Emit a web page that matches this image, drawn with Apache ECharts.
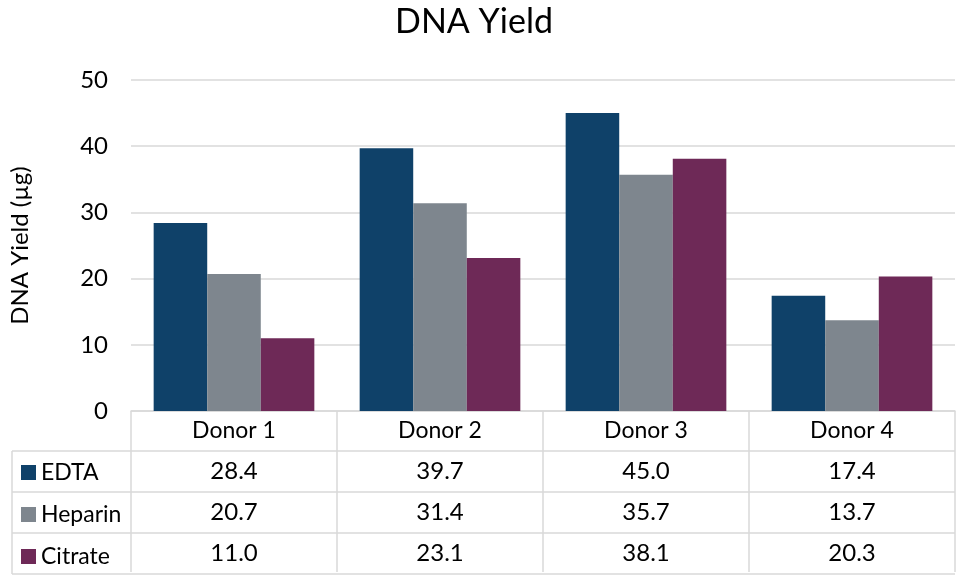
<!DOCTYPE html>
<html><head><meta charset="utf-8">
<script src="https://cdn.jsdelivr.net/npm/echarts@6/dist/echarts.min.js"></script>
<style>html,body{margin:0;padding:0;background:#fff}#c{width:962px;height:584px}</style>
</head><body><div id="c"></div>
<script>
const categories = ['Donor 1', 'Donor 2', 'Donor 3', 'Donor 4'];
const seriesNames = ['EDTA', 'Heparin', 'Citrate'];
const edta = [28.4, 39.7, 45.0, 17.4];
const heparin = [20.7, 31.4, 35.7, 13.7];
const citrate = [11.0, 23.1, 38.1, 20.3];
const yTicks = [0, 10, 20, 30, 40, 50];

const values = [edta, heparin, citrate];
const colors = ['#0F4169', '#7E868E', '#6E2957'];
const FONT = 'Lato';
const GRID = { left: 131, right: 7, top: 80, bottom: 173 };
const ROW = 41;
const gridColor = '#D9D9D9';

const chart = echarts.init(document.getElementById('c'));

const xAxes = [{
  type: 'category', data: categories, position: 'bottom',
  axisLine: { show: true, lineStyle: { color: gridColor, width: 1.5 } },
  axisTick: { show: true, length: ROW * 4 - 3, lineStyle: { color: gridColor, width: 1.5 } },
  axisLabel: { color: '#000', fontFamily: FONT, fontSize: 23, margin: 8 }
}];
values.forEach((arr, i) => {
  xAxes.push({
    type: 'category', data: arr.map(v => v.toFixed(1)), position: 'bottom',
    offset: ROW * (i + 1),
    axisLine: { show: false }, axisTick: { show: false },
    axisLabel: { color: '#000', fontFamily: FONT, fontSize: 24, margin: 7 }
  });
});

const H = 584, W = 962;
const tableTop = H - GRID.bottom;
const gfx = [];
for (let r = 1; r <= 4; r++) {
  const y = tableTop + ROW * r - 1;
  gfx.push({ type: 'line', shape: { x1: 12, y1: y, x2: W - GRID.right, y2: y }, style: { stroke: gridColor, lineWidth: 1.5 }, silent: true });
}
gfx.push({ type: 'line', shape: { x1: 12, y1: tableTop + ROW - 1, x2: 12, y2: tableTop + ROW * 4 - 1 }, style: { stroke: gridColor, lineWidth: 1.5 }, silent: true });
gfx.push({ type: 'text', x: 474, y: 22, style: { text: 'DNA Yield', font: '34px ' + FONT, fill: '#000', textAlign: 'center', textVerticalAlign: 'middle' } });

chart.setOption({
  animation: false,
  backgroundColor: '#fff',
  grid: GRID,
  legend: {
    orient: 'vertical', left: 21, top: tableTop + ROW + 9, height: 160, padding: 0,
    itemWidth: 15, itemHeight: 15, itemGap: 19,
    icon: 'rect', data: seriesNames,
    textStyle: { fontFamily: FONT, fontSize: 23, color: '#000' }
  },
  xAxis: xAxes,
  yAxis: {
    type: 'value', min: 0, max: 50, interval: 10,
    name: 'DNA Yield (µg)', nameLocation: 'middle', nameGap: 99,
    nameTextStyle: { fontFamily: FONT, fontSize: 24, color: '#000' },
    axisLine: { show: false }, axisTick: { show: false },
    axisLabel: { color: '#000', fontFamily: FONT, fontSize: 24, margin: 23, formatter: v => yTicks.includes(v) ? String(v) : '' },
    splitLine: { lineStyle: { color: gridColor, width: 1.5 } }
  },
  series: seriesNames.map((n, i) => ({
    name: n, type: 'bar', data: values[i], xAxisIndex: 0,
    barGap: '0%', barCategoryGap: '22%',
    itemStyle: { color: colors[i] }
  })),
  graphic: gfx
});
</script></body></html>
